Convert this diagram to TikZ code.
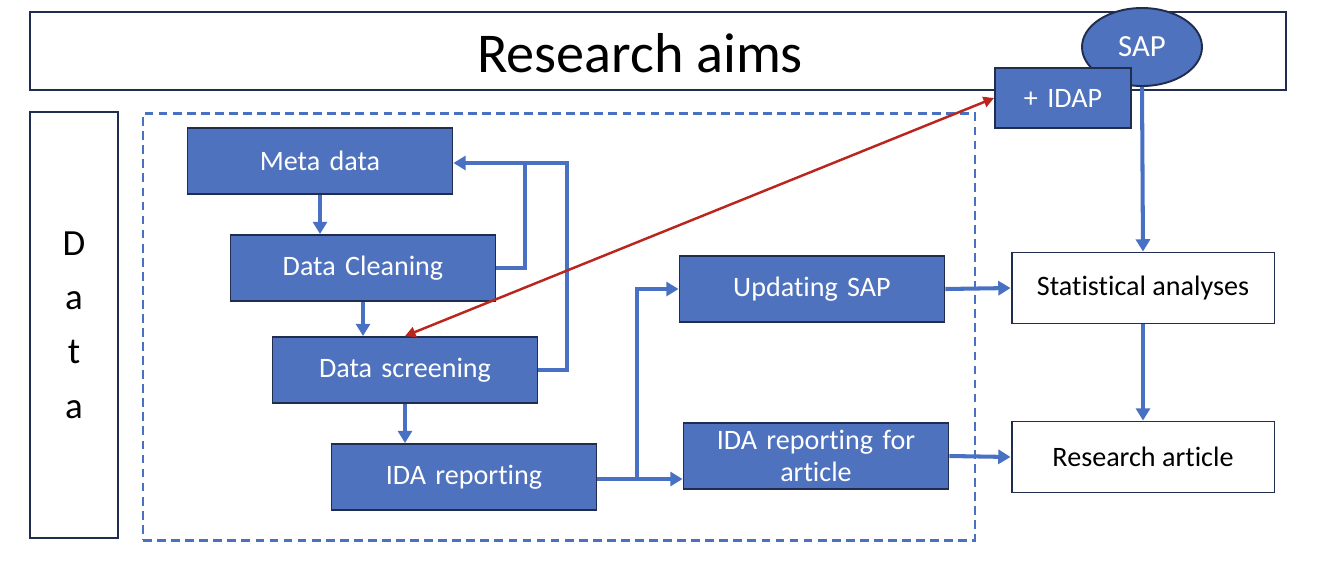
\documentclass[tikz,border=0pt]{standalone}
\usepackage{fontspec}
\setmainfont{Carlito}[Ligatures=NoCommon]
\usetikzlibrary{shapes,arrows.meta,positioning,calc}
\definecolor{boxblue}{RGB}{79,114,190}
\definecolor{boxedge}{RGB}{32,45,78}
\definecolor{lineblue}{RGB}{72,113,196}
\definecolor{linkred}{RGB}{186,38,30}

\begin{document}
\begin{tikzpicture}[
    x=0.02cm, y=-0.02cm,
    block/.style={rectangle, draw=boxedge, line width=1.1pt, fill=boxblue, text=white, text width=4.9cm, align=center, minimum width=5.3cm, minimum height=1.32cm, inner sep=1pt, font=\fontsize{16}{18}\selectfont},
    outbox/.style={rectangle, draw=boxedge, line width=1.1pt, fill=white, minimum width=5.26cm, minimum height=1.42cm, font=\fontsize{16}{18}\selectfont},
    frame/.style={rectangle, draw=boxedge, line width=1.1pt},
    arrow/.style={-{Triangle[length=7pt,width=8pt]}, line width=2.3pt, draw=lineblue},
    line/.style={line width=2.3pt, draw=lineblue},
    link/.style={{Triangle[length=6pt,width=6pt]}-{Triangle[length=6pt,width=6pt]}, line width=1.4pt, draw=linkred}
]
    \useasboundingbox (0,0) rectangle (1340,586);

    \node[frame, minimum width=25.14cm, minimum height=1.56cm] (aims) at (658,51) {};
    \node (title) at (640,53) {\fontsize{32}{36}\selectfont Research aims};
    \node[ellipse, draw=boxedge, line width=1.1pt, fill=boxblue, text=white, minimum width=2.4cm, minimum height=1.56cm, font=\fontsize{17.5}{19}\selectfont] (sap) at (1142,47) {SAP};
    \node[block, text width=2.5cm, minimum width=2.72cm, minimum height=1.2cm] (idap) at (1063,98) {+ IDAP};

    \node[frame, minimum width=1.76cm, minimum height=8.52cm, align=center, font=\fontsize{21}{31}\selectfont] (data) at (74,325) {D\\a\\t\\a};
    \node[rectangle, draw=lineblue, line width=1.4pt, dash pattern=on 5pt off 3pt, minimum width=16.64cm, minimum height=8.54cm] (ida) at (559,327) {};

    \node[block] (meta) at (320,161) {Meta data};
    \node[block] (clean) at (363,268) {Data Cleaning};
    \node[block] (screen) at (405,370) {Data screening};
    \node[block] (idarep) at (464,477) {IDA reporting};
    \node[block] (upd) at (812,289) {Updating SAP};
    \node[block] (art) at (816,456) {IDA reporting for\\article};
    \node[outbox] (stat) at (1143,288) {Statistical analyses};
    \node[outbox] (paper) at (1143,457) {Research article};

    \coordinate (loopA) at (525,163);
    \coordinate (loopB) at (567,163);
    \coordinate (fork) at (637,479);

    \draw[arrow] (meta.south) -- (clean.north -| meta.south);
    \draw[arrow] (clean.south) -- (screen.north -| clean.south);
    \draw[arrow] (screen.south) -- (idarep.north -| screen.south);
    \draw[line] (clean.east) -| (loopA);
    \draw[line] (screen.east) -| (loopB) -- (loopA);
    \draw[arrow] (loopA) -- (loopA -| meta.east);
    \draw[line] (idarep.east |- fork) -- (fork);
    \draw[arrow] (fork) |- (upd.west);
    \draw[arrow] (fork) -- (fork -| art.west);
    \draw[arrow] (upd.east) -- (stat.west);
    \draw[arrow] (art.east) -- (paper.west);
    \draw[arrow] (sap.south) -- (stat.north);
    \draw[arrow] (stat.south) -- (paper.north);

    \draw[link] (screen.north) -- (idap.west);
\end{tikzpicture}
\end{document}
